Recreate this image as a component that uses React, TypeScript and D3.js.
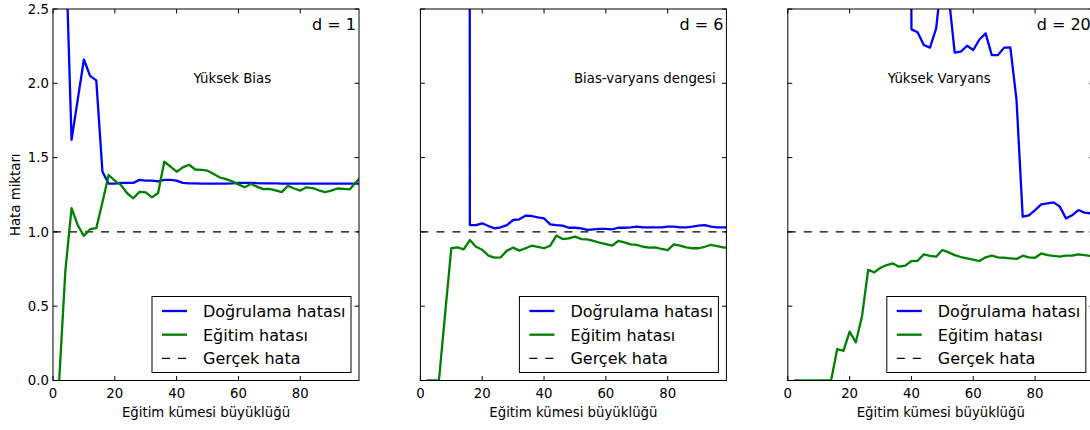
import React from "react";
import * as d3 from "d3";

// Training set sizes (x categories)
const sizes = [
  2, 4, 6, 8, 10, 12, 14, 16, 18, 20,
  22, 24, 26, 28, 30, 32, 34, 36, 38, 40,
  42, 44, 46, 48, 50, 52, 54, 56, 58, 60,
  62, 64, 66, 68, 70, 72, 74, 76, 78, 80,
  82, 84, 86, 88, 90, 92, 94, 96, 98, 100,
];

// d = 1
const valD1 = [
  8.0, 3.0, 1.62, 1.89, 2.16, 2.05, 2.02, 1.405, 1.325, 1.325,
  1.33, 1.33, 1.33, 1.35, 1.345, 1.345, 1.34, 1.35, 1.35, 1.345,
  1.33, 1.327, 1.327, 1.325, 1.325, 1.325, 1.325, 1.325, 1.327, 1.33,
  1.33, 1.33, 1.328, 1.327, 1.327, 1.327, 1.325, 1.325, 1.325, 1.325,
  1.325, 1.325, 1.325, 1.325, 1.325, 1.325, 1.325, 1.325, 1.325, 1.325,
];
const trainD1 = [
  0.0, 0.74, 1.16, 1.045, 0.973, 1.018, 1.025, 1.2, 1.383, 1.345,
  1.315, 1.26, 1.226, 1.27, 1.266, 1.232, 1.262, 1.472, 1.44, 1.405,
  1.434, 1.452, 1.42, 1.418, 1.412, 1.39, 1.366, 1.355, 1.34, 1.32,
  1.3, 1.322, 1.305, 1.288, 1.29, 1.28, 1.268, 1.31, 1.292, 1.278,
  1.3, 1.295, 1.28, 1.268, 1.278, 1.292, 1.29, 1.286, 1.335, 1.375,
];

// d = 6
const valD6 = [
  900, 600, 400, 250, 150, 120, 90, 1.046, 1.046, 1.058,
  1.04, 1.024, 1.031, 1.046, 1.08, 1.085, 1.109, 1.107, 1.098, 1.091,
  1.051, 1.046, 1.042, 1.028, 1.028, 1.024, 1.013, 1.017, 1.02, 1.02,
  1.017, 1.028, 1.028, 1.031, 1.035, 1.031, 1.031, 1.031, 1.031, 1.035,
  1.035, 1.031, 1.031, 1.035, 1.042, 1.046, 1.035, 1.031, 1.031, 1.031,
];
const trainD6 = [
  0, 0, 0, 0.45, 0.89, 0.896, 0.883, 0.945, 0.9, 0.88,
  0.84, 0.827, 0.829, 0.874, 0.894, 0.874, 0.89, 0.907, 0.9, 0.89,
  0.907, 0.975, 0.952, 0.957, 0.968, 0.952, 0.95, 0.939, 0.927, 0.918,
  0.907, 0.939, 0.93, 0.916, 0.912, 0.9, 0.894, 0.896, 0.885, 0.878,
  0.916, 0.907, 0.896, 0.89, 0.89, 0.9, 0.912, 0.905, 0.896, 0.89,
];

// d = 20
const valD20 = [
  900, 800, 700, 600, 500, 400, 300, 200, 150, 100,
  80, 60, 50, 40, 35, 30, 28, 25, 20, 2.363,
  2.343, 2.258, 2.24, 2.37, 2.75, 2.6, 2.206, 2.213, 2.253, 2.224,
  2.295, 2.336, 2.19, 2.19, 2.24, 2.242, 1.888, 1.102, 1.112, 1.147,
  1.185, 1.192, 1.199, 1.17, 1.091, 1.112, 1.147, 1.13, 1.125, 1.125,
];
const trainD20 = [
  0, 0, 0, 0, 0, 0, 0, 0.212, 0.199, 0.329,
  0.257, 0.43, 0.744, 0.728, 0.759, 0.777, 0.788, 0.766, 0.773, 0.804,
  0.806, 0.849, 0.838, 0.833, 0.878, 0.862, 0.844, 0.831, 0.822, 0.813,
  0.804, 0.829, 0.84, 0.829, 0.826, 0.822, 0.818, 0.84, 0.829, 0.826,
  0.855, 0.844, 0.838, 0.833, 0.84, 0.84, 0.849, 0.844, 0.838, 0.835,
];

const trueError = 1.0;
const panelTitles = ["d = 1", "d = 6", "d = 20"];
const annotations = ["Yüksek Bias", "Bias-varyans dengesi", "Yüksek Varyans"];
const annotationX = [58, 72.6, 49];
const annotationY = 2.0;
const xTicks = [0, 20, 40, 60, 80];
const yTicks = [0, 0.5, 1.0, 1.5, 2.0, 2.5];
const legendLabels = ["Doğrulama hatası", "Eğitim hatası", "Gerçek hata"];
const xLabel = "Eğitim kümesi büyüklüğü";
const yLabel = "Hata miktarı";

const validation = [valD1, valD6, valD20];
const training = [trainD1, trainD6, trainD20];

const W = 1090;
const H = 430;
const FONT = "DejaVu Sans, sans-serif";
const BLUE = "#0000ff";
const GREEN = "#008000";

const PANEL_LEFT0 = 53;
const PANEL_W = 306;
const PANEL_STEP = 367.4;
const TOP = 9;
const BOTTOM = 380.5;
const TICK = 4.5;

function Panel({ i }: { i: number }) {
  const x0 = PANEL_LEFT0 + i * PANEL_STEP;
  const x = d3.scaleLinear().domain([0, 99]).range([x0, x0 + PANEL_W]);
  const y = d3.scaleLinear().domain([0, 2.5]).range([BOTTOM, TOP]);
  const line = d3
    .line<number>()
    .x((_, k) => x(sizes[k]))
    .y((v) => y(v));
  const clipId = `clip-${i}`;
  const fmt = d3.format(".1f");

  const lx1 = x0 + PANEL_W - 8;
  const lw = 199;
  const lh = 76;
  const lx0 = lx1 - lw;
  const ly1 = BOTTOM - 8;
  const ly0 = ly1 - lh;

  return (
    <g>
      <defs>
        <clipPath id={clipId}>
          <rect x={x0} y={TOP} width={PANEL_W} height={BOTTOM - TOP} />
        </clipPath>
      </defs>
      <g clipPath={`url(#${clipId})`}>
        <line
          x1={x(0)}
          x2={x(100)}
          y1={y(trueError)}
          y2={y(trueError)}
          stroke="#000"
          strokeWidth={1.2}
          strokeDasharray="8,8"
        />
        <path
          d={line(validation[i]) || ""}
          fill="none"
          stroke={BLUE}
          strokeWidth={2.3}
          strokeLinejoin="round"
        />
        <path
          d={line(training[i]) || ""}
          fill="none"
          stroke={GREEN}
          strokeWidth={2.3}
          strokeLinejoin="round"
        />
      </g>
      {/* ticks */}
      {xTicks.map((t) => (
        <g key={"xt" + t}>
          <line x1={x(t)} x2={x(t)} y1={BOTTOM} y2={BOTTOM - TICK} stroke="#000" />
          <line x1={x(t)} x2={x(t)} y1={TOP} y2={TOP + TICK} stroke="#000" />
          <text
            x={x(t)}
            y={397.5}
            textAnchor="middle"
            fontFamily={FONT}
            fontSize={13.3}
            fill="#000"
          >
            {t}
          </text>
        </g>
      ))}
      {yTicks.map((t) => (
        <g key={"yt" + t}>
          <line x1={x0} x2={x0 + TICK} y1={y(t)} y2={y(t)} stroke="#000" />
          <line x1={x0 + PANEL_W} x2={x0 + PANEL_W - TICK} y1={y(t)} y2={y(t)} stroke="#000" />
          {i === 0 && (
            <text
              x={x0 - 4}
              y={y(t) + 4.8}
              textAnchor="end"
              fontFamily={FONT}
              fontSize={13.3}
              fill="#000"
            >
              {fmt(t)}
            </text>
          )}
        </g>
      ))}
      <rect
        x={x0}
        y={TOP}
        width={PANEL_W}
        height={BOTTOM - TOP}
        fill="none"
        stroke="#000"
        strokeWidth={1}
      />
      <text
        x={x0 + PANEL_W - 3}
        y={30}
        textAnchor="end"
        fontFamily={FONT}
        fontSize={16}
        fill="#000"
      >
        {panelTitles[i]}
      </text>
      <text
        x={x(annotationX[i])}
        y={y(annotationY)}
        textAnchor="middle"
        fontFamily={FONT}
        fontSize={13.3}
        fill="#000"
      >
        {annotations[i]}
      </text>
      <text
        x={x0 + PANEL_W / 2}
        y={417}
        textAnchor="middle"
        fontFamily={FONT}
        fontSize={13.3}
        fill="#000"
      >
        {xLabel}
      </text>
      {/* legend */}
      <g>
        <rect x={lx0} y={ly0} width={lw} height={lh} fill="#fff" stroke="#000" strokeWidth={1} />
        {legendLabels.map((lab, k) => {
          const ry = ly0 + 14.5 + k * 23.7;
          return (
            <g key={lab}>
              <line
                x1={lx0 + 10}
                x2={lx0 + 35}
                y1={ry}
                y2={ry}
                stroke={k === 0 ? BLUE : k === 1 ? GREEN : "#000"}
                strokeWidth={k === 2 ? 1.2 : 2.3}
                strokeDasharray={k === 2 ? "8,8" : undefined}
              />
              <text
                x={lx0 + 51}
                y={ry + 5.8}
                fontFamily={FONT}
                fontSize={16}
                fill="#000"
              >
                {lab}
              </text>
            </g>
          );
        })}
      </g>
    </g>
  );
}

export default function App() {
  const yMid = (TOP + BOTTOM) / 2;
  return (
    <svg
      width={W}
      height={H}
      style={{ position: "absolute", left: 0, top: 0, background: "#fff" }}
    >
      <rect x={0} y={0} width={W} height={H} fill="#fff" />
      {[0, 1, 2].map((i) => (
        <Panel key={i} i={i} />
      ))}
      <text
        transform={`translate(20,${yMid}) rotate(-90)`}
        textAnchor="middle"
        fontFamily={FONT}
        fontSize={13.3}
        fill="#000"
      >
        {yLabel}
      </text>
    </svg>
  );
}
